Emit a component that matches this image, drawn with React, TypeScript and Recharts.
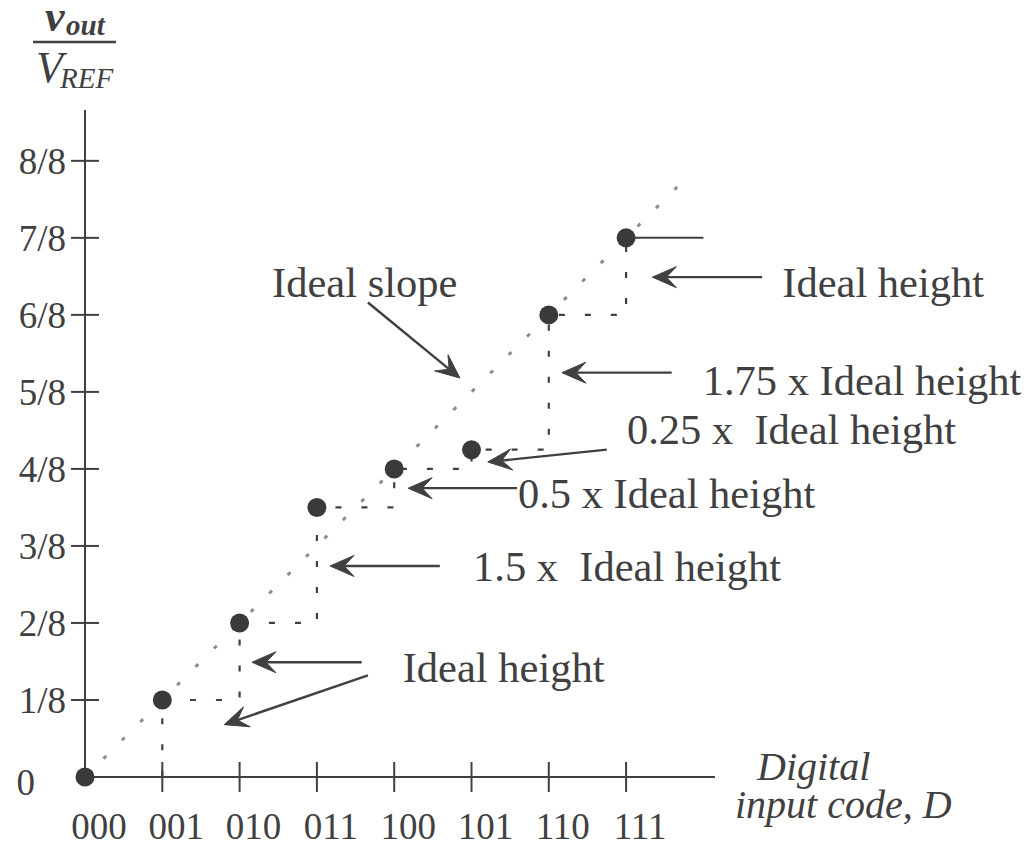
import React from 'react';
import { ComposedChart, Line, XAxis, YAxis, ReferenceLine, ReferenceDot } from 'recharts';

// ---- data ----
const codes = ['000', '001', '010', '011', '100', '101', '110', '111'];
const codeIndex = [0, 1, 2, 3, 4, 5, 6, 7];
const outputEighths = [0, 1, 2, 3.5, 4, 4.25, 6, 7];
const yTicks = [0, 1, 2, 3, 4, 5, 6, 7, 8];
const yTickLabels = ['0', '1/8', '2/8', '3/8', '4/8', '5/8', '6/8', '7/8', '8/8'];
const idealSlopeX = [0, 7.85];
const lastStepEndX = 8;

const noteTexts = [
  'Ideal slope',
  'Ideal height',
  '1.75 x Ideal height',
  '0.25 x  Ideal height',
  '0.5 x Ideal height',
  '1.5 x  Ideal height',
  'Ideal height',
];
const noteX = [2.42, 9.02, 7.99, 7.01, 5.6, 5.02, 4.11];
const noteY = [6.23, 6.23, 4.96, 4.32, 3.49, 2.55, 1.23];

const arrowFromX = [3.66, 8.76, 7.59, 6.75, 5.59, 4.59, 3.58, 3.66];
const arrowFromY = [6.16, 6.49, 5.25, 4.25, 3.75, 2.74, 1.49, 1.32];
const arrowToX = [4.85, 7.34, 6.17, 5.21, 4.18, 3.17, 2.16, 1.8];
const arrowToY = [5.18, 6.49, 5.25, 4.09, 3.75, 2.74, 1.49, 0.68];

// ---- derived tables ----
const points = codeIndex.map((x, i) => ({ x, v: outputEighths[i] }));
const lastStep = [
  { x: codeIndex[7], v: outputEighths[7] },
  { x: lastStepEndX, v: outputEighths[7] },
];
const slope = idealSlopeX.map((x) => ({ x, v: x }));

const INK = '#404040';
const SERIF = '"Liberation Serif", "Times New Roman", serif';

const XTick = (props: any) => {
  const { x, y, payload } = props;
  const v = payload.value;
  return (
    <g>
      {v !== 0 && <line x1={x} x2={x} y1={y - 15} y2={y + 15} stroke={INK} strokeWidth={2} />}
      <text x={x + 14} y={y + 62} textAnchor="middle" fontSize={37} fontFamily={SERIF} fill={INK}>
        {codes[v]}
      </text>
    </g>
  );
};

const YTick = (props: any) => {
  const { x, y, payload } = props;
  const v = payload.value;
  if (v === 0) {
    return (
      <text x={x - 50} y={y + 18} textAnchor="end" fontSize={37} fontFamily={SERIF} fill={INK}>
        {yTickLabels[v]}
      </text>
    );
  }
  return (
    <g>
      <line x1={x - 14} x2={x + 14} y1={y} y2={y} stroke={INK} strokeWidth={2} />
      <text x={x - 19} y={y + 13} textAnchor="end" fontSize={37} fontFamily={SERIF} fill={INK}>
        {yTickLabels[v]}
      </text>
    </g>
  );
};

const Arrow = (p: any) => {
  const { x1, y1, x2, y2 } = p;
  const dx = x2 - x1;
  const dy = y2 - y1;
  const L = Math.hypot(dx, dy) || 1;
  const ux = dx / L;
  const uy = dy / L;
  const px = -uy;
  const py = ux;
  const hl = 24;
  const hw = 10.5;
  const notch = 14;
  const pts = [
    [x2, y2],
    [x2 - ux * hl + px * hw, y2 - uy * hl + py * hw],
    [x2 - ux * notch, y2 - uy * notch],
    [x2 - ux * hl - px * hw, y2 - uy * hl - py * hw],
  ]
    .map((q) => q.join(','))
    .join(' ');
  return (
    <g>
      <line x1={x1} y1={y1} x2={x2 - ux * notch} y2={y2 - uy * notch} stroke={INK} strokeWidth={2.4} />
      <polygon points={pts} fill={INK} stroke={INK} strokeWidth={1} strokeLinejoin="round" />
    </g>
  );
};

const NoteText = (text: string) => (p: any) => (
  <text x={p.cx} y={p.cy} fontSize={42.5} fontFamily={SERIF} fill={INK} style={{ whiteSpace: 'pre' }}>
    {text}
  </text>
);

const YTitle = (props: any) => {
  const vb = props.viewBox;
  const left = vb.x;
  const top = vb.y;
  return (
    <g fontFamily={SERIF} fill={INK} fontStyle="italic">
      <text x={left + 35} y={top - 79} fontSize={44} fontWeight="bold">v</text>
      <text x={left + 56} y={top - 75} fontSize={29} fontWeight="bold">out</text>
      <line x1={left + 23} x2={left + 106} y1={top - 68} y2={top - 68} stroke={INK} strokeWidth={2.5} />
      <text x={left + 26} y={top - 28} fontSize={44}>V</text>
      <text x={left + 50} y={top - 22} fontSize={29}>REF</text>
    </g>
  );
};

const XTitle = (props: any) => {
  const vb = props.viewBox;
  const right = vb.x + vb.width;
  const axisY = vb.y;
  return (
    <g fontFamily={SERIF} fill={INK} fontStyle="italic" fontSize={40}>
      <text x={right + 42} y={axisY + 3}>Digital</text>
      <text x={right + 20} y={axisY + 41}>input code, D</text>
    </g>
  );
};

export default function App() {
  return (
    <div style={{ position: 'absolute', left: 0, top: 0, width: 1032, height: 846, background: '#fff' }}>
      <ComposedChart
        width={1032}
        height={846}
        margin={{ top: 110, right: 317, bottom: 9, left: 10 }}
      >
        <XAxis
          type="number"
          dataKey="x"
          domain={[0, 8.15]}
          ticks={codeIndex}
          interval={0}
          tick={<XTick />}
          tickLine={false}
          tickSize={0}
          tickMargin={0}
          height={60}
          axisLine={{ stroke: INK, strokeWidth: 2 }}
          label={{ content: (p: any) => <XTitle {...p} /> }}
        />
        <YAxis
          type="number"
          dataKey="v"
          domain={[0, 8.66]}
          ticks={yTicks}
          interval={0}
          tick={<YTick />}
          tickLine={false}
          tickSize={0}
          tickMargin={0}
          width={75}
          axisLine={{ stroke: INK, strokeWidth: 2 }}
          label={{ content: (p: any) => <YTitle {...p} /> }}
        />
        <Line
          data={slope}
          dataKey="v"
          type="linear"
          stroke="#948a8a"
          strokeWidth={3}
          strokeDasharray="4 22"
          dot={false}
          activeDot={false}
          isAnimationActive={false}
        />
        <Line
          data={points}
          dataKey="v"
          type="stepAfter"
          stroke={INK}
          strokeWidth={2.2}
          strokeDasharray="6 20"
          dot={false}
          activeDot={false}
          isAnimationActive={false}
        />
        <Line
          data={lastStep}
          dataKey="v"
          type="linear"
          stroke={INK}
          strokeWidth={2}
          dot={false}
          activeDot={false}
          isAnimationActive={false}
        />
        <Line
          data={points}
          dataKey="v"
          stroke="none"
          dot={{ r: 9.5, fill: '#3a3a3a', stroke: 'none', clipDot: false }}
          activeDot={false}
          isAnimationActive={false}
        />
        {arrowFromX.map((fx, i) => (
          <ReferenceLine
            key={'a' + i}
            segment={[
              { x: fx, y: arrowFromY[i] },
              { x: arrowToX[i], y: arrowToY[i] },
            ]}
            ifOverflow="visible"
            stroke={INK}
            shape={(p: any) => <Arrow {...p} />}
          />
        ))}
        {noteTexts.map((t, i) => (
          <ReferenceDot
            key={'n' + i}
            x={noteX[i]}
            y={noteY[i]}
            r={0}
            ifOverflow="visible"
            shape={NoteText(t)}
          />
        ))}
      </ComposedChart>
    </div>
  );
}
